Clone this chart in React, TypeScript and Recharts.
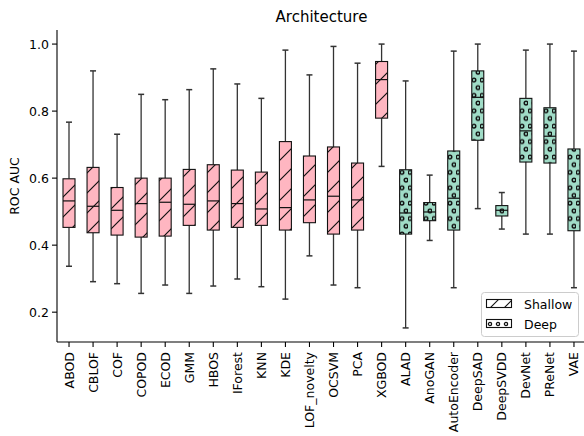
import React from 'react';
import { ComposedChart, Bar, XAxis, YAxis } from 'recharts';

const categories = ['ABOD', 'CBLOF', 'COF', 'COPOD', 'ECOD', 'GMM', 'HBOS', 'IForest', 'KNN', 'KDE', 'LOF_novelty', 'OCSVM', 'PCA', 'XGBOD', 'ALAD', 'AnoGAN', 'AutoEncoder', 'DeepSAD', 'DeepSVDD', 'DevNet', 'PReNet', 'VAE'];
const groups = ['Shallow', 'Shallow', 'Shallow', 'Shallow', 'Shallow', 'Shallow', 'Shallow', 'Shallow', 'Shallow', 'Shallow', 'Shallow', 'Shallow', 'Shallow', 'Shallow', 'Deep', 'Deep', 'Deep', 'Deep', 'Deep', 'Deep', 'Deep', 'Deep'];
const whiskerHigh = [0.767, 0.920, 0.731, 0.850, 0.834, 0.864, 0.926, 0.881, 0.838, 0.982, 0.908, 0.993, 0.943, 1.0, 0.890, 0.609, 0.979, 1.0, 0.557, 0.982, 1.0, 0.979];
const q3 = [0.598, 0.632, 0.572, 0.600, 0.600, 0.626, 0.640, 0.624, 0.618, 0.709, 0.666, 0.693, 0.645, 0.948, 0.625, 0.527, 0.681, 0.920, 0.518, 0.838, 0.810, 0.687];
const median = [0.532, 0.516, 0.504, 0.524, 0.528, 0.522, 0.532, 0.524, 0.508, 0.512, 0.535, 0.546, 0.535, 0.894, 0.496, 0.499, 0.540, 0.841, 0.504, 0.741, 0.725, 0.540];
const q1 = [0.453, 0.437, 0.430, 0.424, 0.427, 0.459, 0.445, 0.453, 0.459, 0.445, 0.467, 0.433, 0.445, 0.779, 0.433, 0.473, 0.445, 0.713, 0.487, 0.648, 0.645, 0.443];
const whiskerLow = [0.337, 0.291, 0.285, 0.256, 0.281, 0.256, 0.278, 0.299, 0.276, 0.239, 0.368, 0.281, 0.273, 0.635, 0.153, 0.414, 0.273, 0.509, 0.448, 0.433, 0.433, 0.273];
const yTicks = [0.2, 0.4, 0.6, 0.8, 1.0];
const yDomain = [0.111, 1.042];
const legendItems = ['Shallow', 'Deep'];

const data = categories.map((name, i) => ({
  name,
  group: groups[i],
  lo: whiskerLow[i],
  q1: q1[i],
  med: median[i],
  q3: q3[i],
  hi: whiskerHigh[i],
  range: [whiskerLow[i], whiskerHigh[i]],
}));

const FONT = 'DejaVu Sans, sans-serif';
const PINK = '#ffb6c1';
const GREEN = '#a0dcc7';

const BoxShape = (props: any) => {
  const { x, y, width, height, payload } = props;
  if (x == null || y == null) return null;
  const top = Math.min(y, y + height);
  const bot = Math.max(y, y + height);
  const { hi, lo } = payload;
  const toY = (v: number) => top + ((hi - v) / (hi - lo)) * (bot - top);
  const cx = x + width / 2;
  const capHalf = width / 4;
  const yQ3 = toY(payload.q3);
  const yQ1 = toY(payload.q1);
  const yMed = toY(payload.med);
  const fill = payload.group === 'Shallow' ? 'url(#hatchShallow)' : 'url(#dotsDeep)';
  const wc = '#333';
  return (
    <g>
      <line x1={cx} x2={cx} y1={top} y2={yQ3} stroke={wc} strokeWidth={1.3} />
      <line x1={cx} x2={cx} y1={yQ1} y2={bot} stroke={wc} strokeWidth={1.3} />
      <line x1={cx - capHalf} x2={cx + capHalf} y1={top} y2={top} stroke={wc} strokeWidth={1.5} />
      <line x1={cx - capHalf} x2={cx + capHalf} y1={bot} y2={bot} stroke={wc} strokeWidth={1.5} />
      <rect x={x} y={yQ3} width={width} height={yQ1 - yQ3} fill={fill} stroke="#111" strokeWidth={1.1} />
      <line x1={x} x2={x + width} y1={yMed} y2={yMed} stroke="#111" strokeWidth={1.2} />
    </g>
  );
};

const XTick = (props: any) => {
  const { x, y, payload } = props;
  return (
    <g transform={`translate(${x},${y})`}>
      <text transform="rotate(-90)" x={-3} y={0} dy="0.36em" textAnchor="end" fontSize={12.5} fontFamily={FONT} fill="#000">
        {payload.value}
      </text>
    </g>
  );
};

const Patterns = ({ prefix, shallowBg, deepBg }: { prefix: string; shallowBg: string; deepBg: string }) => (
  <defs>
    <pattern id={`hatch${prefix}`} patternUnits="userSpaceOnUse" width={20} height={20}>
      <rect x={0} y={0} width={20} height={20} fill={shallowBg} />
      <path d="M-2,2 l4,-4 M0,20 l20,-20 M18,22 l4,-4" stroke="#111" strokeWidth={1.2} />
    </pattern>
    <pattern id={`dots${prefix}`} patternUnits="userSpaceOnUse" width={8} height={15.4}>
      <rect x={0} y={0} width={8} height={15.4} fill={deepBg} />
      <circle cx={2} cy={3} r={1.8} fill="none" stroke="#111" strokeWidth={1.4} />
      <circle cx={6} cy={10.7} r={1.8} fill="none" stroke="#111" strokeWidth={1.4} />
    </pattern>
  </defs>
);

export default function App() {
  return (
    <div style={{ position: 'fixed', left: 0, top: 0, width: 584, height: 436, overflow: 'hidden', background: '#fff' }}>
      <ComposedChart
        width={590}
        height={436}
        data={data}
        margin={{ top: 30, right: 4, bottom: 0, left: 0 }}
      >
        <Patterns prefix="Shallow" shallowBg={PINK} deepBg={GREEN} />
        <Patterns prefix="Deep" shallowBg={PINK} deepBg={GREEN} />
        <XAxis
          dataKey="name"
          interval={0}
          height={94}
          tick={<XTick />}
          tickSize={5}
          tickMargin={2}
          axisLine={{ stroke: '#000', strokeWidth: 1.1 }}
          tickLine={{ stroke: '#000', strokeWidth: 1.1 }}
        />
        <XAxis
          xAxisId="top"
          dataKey="name"
          orientation="top"
          height={0}
          tick={false}
          tickLine={false}
          axisLine={{ stroke: '#000', strokeWidth: 1.1 }}
        />
        <YAxis
          type="number"
          domain={yDomain}
          allowDataOverflow
          ticks={yTicks}
          tickFormatter={(v: number) => v.toFixed(1)}
          width={57}
          tickSize={5}
          tickMargin={3}
          tick={{ fontSize: 12.5, fontFamily: FONT, fill: '#000' }}
          axisLine={{ stroke: '#000', strokeWidth: 1.1 }}
          tickLine={{ stroke: '#000', strokeWidth: 1.1 }}
        />
        <Bar dataKey="range" barSize={12} isAnimationActive={false} shape={<BoxShape />} />
      </ComposedChart>
      <svg width={584} height={436} style={{ position: 'absolute', left: 0, top: 0, pointerEvents: 'none' }}>
        <defs>
          <pattern id="legHatch" patternUnits="userSpaceOnUse" width={14} height={14}>
            <rect width={14} height={14} fill="#fff" />
            <path d="M-2,2 l4,-4 M0,14 l14,-14 M12,16 l4,-4" stroke="#111" strokeWidth={1.1} />
          </pattern>
          <pattern id="legDots" patternUnits="userSpaceOnUse" width={8} height={8} x={486} y={319}>
            <rect width={8} height={8} fill="#fff" />
            <circle cx={4} cy={5} r={1.6} fill="none" stroke="#111" strokeWidth={1.3} />
          </pattern>
        </defs>
        <text x={321.5} y={22} textAnchor="middle" fontSize={15} fontFamily={FONT} fill="#000">Architecture</text>
        <text x={14} y={186} transform="rotate(-90, 14, 186)" textAnchor="middle" dominantBaseline="central" fontSize={12.5} fontFamily={FONT} fill="#000">ROC AUC</text>
        <rect x={481.5} y={292.5} width={97} height={44} rx={3} fill="#fff" fillOpacity={0.85} stroke="#cccccc" strokeWidth={1} />
        {legendItems.map((label, i) => (
          <g key={label}>
            <rect x={486.5} y={299.5 + i * 20} width={25} height={8} fill={label === 'Shallow' ? 'url(#legHatch)' : 'url(#legDots)'} stroke="#111" strokeWidth={1.1} />
            <text x={524} y={308.5 + i * 20} fontSize={12.5} fontFamily={FONT} fill="#000">{label}</text>
          </g>
        ))}
      </svg>
    </div>
  );
}
